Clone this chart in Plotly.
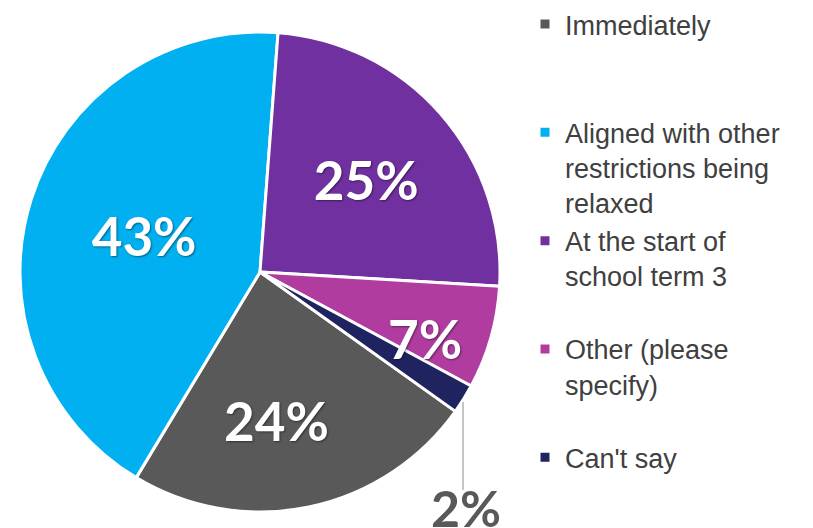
import plotly.graph_objects as go

labels = ["Immediately", "Aligned with other<br>restrictions being<br>relaxed",
          "At the start of<br>school term 3", "Other (please<br>specify)", "Can't say"]
pad = ["<br> <br> ", "", "<br> ", "<br> ", ""]
values = [24, 43, 25, 7, 2]
colors = ["#595959", "#00B0F0", "#7030A0", "#B03CA0", "#1F2461"]

W, H = 813, 528
cx, cy, r = 260, 272, 240

num_font = dict(family="Lato", size=53, color="white", weight="bold",
                shadow="1px 1px 2px rgba(0,0,0,0.45)")

fig = go.Figure(go.Pie(
    labels=[l + p for l, p in zip(labels, pad)],
    values=values,
    sort=False,
    direction="clockwise",
    rotation=125.5,
    marker=dict(colors=colors, line=dict(color="white", width=3)),
    text=[f"{v}%" for v in values],
    textinfo="text",
    textposition=["none", "inside", "inside", "none", "none"],
    insidetextorientation="horizontal",
    insidetextfont=num_font,
    domain=dict(x=[(cx - r) / W, (cx + r) / W], y=[1 - (cy + r) / H, 1 - (cy - r) / H]),
    hoverinfo="label+percent",
))

fig.add_annotation(x=276 / W, y=1 - 420 / H, xref="paper", yref="paper",
                   xanchor="center", yanchor="middle",
                   text=f"{values[0]}%", showarrow=False, font=num_font)
fig.add_annotation(x=425 / W, y=1 - 338 / H, xref="paper", yref="paper",
                   xanchor="center", yanchor="middle",
                   text=f"{values[3]}%", showarrow=False, font=num_font)
fig.add_annotation(x=466 / W, y=1 - 476 / H, xref="paper", yref="paper",
                   xanchor="center", yanchor="top",
                   text=f"{values[4]}%", showarrow=False,
                   font=dict(family="Lato", size=50, color="#595959", weight="bold"))
fig.add_shape(type="line", xref="paper", yref="paper",
              x0=463 / W, x1=463 / W, y0=1 - 402 / H, y1=1 - 490 / H,
              line=dict(color="#8C8C8C", width=1))

fig.update_layout(
    width=W, height=H,
    margin=dict(l=0, r=0, t=0, b=0),
    paper_bgcolor="white",
    showlegend=True,
    legend=dict(x=525 / W, y=1.0, xanchor="left", yanchor="top",
                valign="top", traceorder="normal",
                font=dict(family="Liberation Sans, Arial", size=27, color="#404040")),
)

fig.write_html("out.html", config={"displayModeBar": False},
               post_script="document.body.style.margin='0';")
